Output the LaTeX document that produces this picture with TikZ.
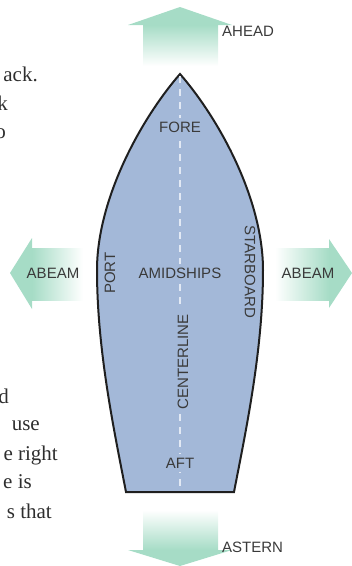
\documentclass[tikz,border=0pt]{standalone}
\usepackage{fontspec}
\setmainfont{Liberation Serif}
\newfontfamily\labfont{Liberation Sans}
\definecolor{hull}{HTML}{A3B8D8}
\definecolor{mint}{HTML}{A6DCC6}
\definecolor{ink}{HTML}{3A3A3A}
\definecolor{bodyink}{HTML}{2E2E2E}
\definecolor{cline}{HTML}{E2E9F4}
\begin{document}
\begin{tikzpicture}[x=1pt,y=-1pt,
  lab/.style={font=\labfont\fontsize{15}{15}\selectfont, text=ink, inner sep=0pt},
  onhull/.style={lab, fill=hull, inner sep=4pt},
  body/.style={font=\fontsize{21}{24}\selectfont, text=bodyink, inner sep=0pt, anchor=base east}]
\useasboundingbox (0,0) rectangle (352,566);
% direction arrows
\shade[top color=mint, bottom color=white] (143,25) rectangle (218,66);
\fill[mint] (128,25) -- (180,7) -- (232,25) -- cycle;
\shade[top color=white, bottom color=mint] (143,510) rectangle (218,550);
\fill[mint] (128,550) -- (180,566) -- (232,550) -- cycle;
\shade[left color=mint, right color=white] (32,248) rectangle (83,300);
\fill[mint] (32,238) -- (10,273) -- (32,309) -- cycle;
\shade[left color=white, right color=mint] (275,248) rectangle (329,300);
\fill[mint] (329,239) -- (352,273) -- (329,308) -- cycle;
% hull
\path[fill=hull, draw=black!88, line width=2pt]
  (180,74) .. controls (140,120) and (97,200) .. (97,270)
  .. controls (97,350) and (114,430) .. (126,492)
  -- (234,492)
  .. controls (246,430) and (263,350) .. (263,270)
  .. controls (263,200) and (220,120) .. (180,74) -- cycle;
\coordinate (bow) at (180,76);
\coordinate (stern) at (180,491);
\draw[cline, line width=2pt, dash pattern=on 7pt off 6pt] (bow) -- (stern);
% labels on hull
\node[onhull] (fore) at (180,127) {FORE};
\node[onhull] (amid) at (180,273) {AMIDSHIPS};
\node[onhull, rotate=90] (cl) at (183,362) {CENTERLINE};
\node[onhull] (aft) at (180,463) {AFT};
\node[lab, rotate=90] (port) at (110,273) {PORT};
\node[lab, rotate=-90] (star) at (250,272) {STARBOARD};
% arrow labels
\node[lab, anchor=west] (ahead) at (222,31) {AHEAD};
\node[lab, anchor=west] (astern) at (222,547) {ASTERN};
\node[lab] (abl) at (53,273) {ABEAM};
\node[lab] (abr) at (308,273) {ABEAM};
% body text, cut at the left edge as in the reference
\begin{scope}
\clip (0,0) rectangle (352,566);
\node[body] (t1) at (38,81) {ack.};
\node[body] (t2) at (8,110) {k};
\node[body] (t3) at (6,138) {o};
\node[body] (t4) at (9,403) {d};
\node[body] (t5) at (40,430) {use};
\node[body] (t6) at (58,460) {e right};
\node[body] (t7) at (32,488) {e is};
\node[body] (t8) at (52,518) {s that};
\end{scope}
\end{tikzpicture}
\end{document}
